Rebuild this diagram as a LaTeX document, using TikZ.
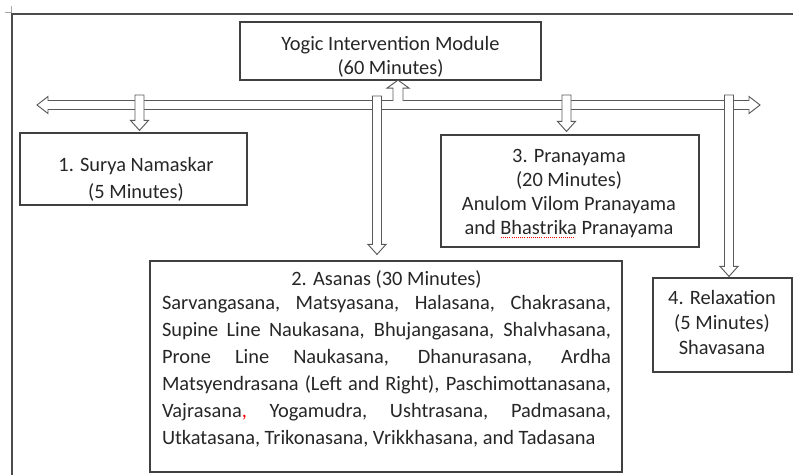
\documentclass[tikz,border=0pt]{standalone}
\usepackage{fontspec}
\setmainfont{Carlito}
\usetikzlibrary{positioning,calc}

\newcommand{\px}{0.75pt}
\newcommand{\asanaw}{336.75pt}
% red spell-check dots under a word
\newcommand{\squig}[1]{\setbox0\hbox{#1}\rlap{\color{red}\raisebox{-2.6pt}{\hbox to\wd0{\leaders\hbox to 1.6pt{\hss\rule{0.7pt}{0.7pt}\hss}\hfill}}}\box0\relax}
% hollow block arrow pointing down, from #1 to tip #2
\newcommand{\downblock}[2]{%
  \draw[blockarrow] ($(#1)+(-4.5,0)$) -- ($(#2)+(-4.5,-10)$) -- ($(#2)+(-9,-10)$) -- (#2)
    -- ($(#2)+(9,-10)$) -- ($(#2)+(4.5,-10)$) -- ($(#1)+(4.5,0)$) -- cycle;}

\begin{document}
\begin{tikzpicture}[
    x=0.75pt, y=-0.75pt,
    box/.style={rectangle, draw=black!75, line width=0.9pt, inner sep=0pt},
    txt/.style={align=center, inner sep=0pt, text=black!85, font=\fontsize{15.3}{18}\selectfont,
      execute at begin node={\spaceskip=0pt\xspaceskip=0pt}},
    blockarrow/.style={draw=black!65, fill=white, line width=0.7pt, line join=miter},
    frame/.style={draw=black!70, line width=1.1pt},
]
\useasboundingbox (0,0) rectangle (793,475);

% page frame and corner mark
\draw[frame] (12,476) |- (794,14);
\draw[black!35, line width=0.5pt] (5,12.5) -- (11,12.5) -- (11,6);

% boxes
\node[box, minimum width=301*\px, minimum height=58*\px] (top) at (390.5,51) {};
\node[box, minimum width=227*\px, minimum height=72*\px] (surya) at (133.5,169) {};
\node[box, minimum width=472*\px, minimum height=211*\px] (asanas) at (386,366.5) {};
\node[box, minimum width=258*\px, minimum height=112*\px] (prana) at (570,191) {};
\node[box, minimum width=139*\px, minimum height=94*\px] (relax) at (722.5,325) {};

% texts
\node[txt] (toptxt) at (390.5,56.5) {Yogic Intervention Module\\(60 Minutes)};
\node[txt, font=\fontsize{15.3}{20.25}\selectfont] (suryatxt) at (136,179.5) {1. Surya Namaskar\\(5 Minutes)};
\node[txt, align=left, text width=\asanaw, font=\fontsize{15.3}{20.25}\selectfont] (asanastxt) at (386.5,358.5) {%
  \makebox[\asanaw]{2. Asanas (30 Minutes)}\\[-2.25pt]
  \makebox[\asanaw][s]{Sarvangasana, Matsyasana, Halasana, Chakrasana,}\\
  \makebox[\asanaw][s]{Supine Line Naukasana, Bhujangasana, Shalvhasana,}\\
  \makebox[\asanaw][s]{Prone Line Naukasana, Dhanurasana, Ardha}\\
  \makebox[\asanaw][s]{Matsyendrasana (Left and Right), Paschimottanasana,}\\
  \makebox[\asanaw][s]{Vajrasana{\color{red},} Yogamudra, Ushtrasana, Padmasana,}\\
  \makebox[\asanaw][l]{Utkatasana, Trikonasana, Vrikkhasana, and Tadasana}};
\node[txt] (pranatxt) at (569,194) {3. Pranayama\\(20 Minutes)\\Anulom Vilom Pranayama\\and \squig{Bhastrika} Pranayama};
\node[txt, font=\fontsize{15.3}{18.4}\selectfont] (relaxtxt) at (722,322.5) {4. Relaxation\\(5 Minutes)\\Shavasana};

% arrow ends
\coordinate (barL) at (37,105);
\coordinate (barR) at (760,105);
\coordinate (up0) at (398,100.5);
\coordinate (up1) at ($(up0 |- top.south)+(0,-0.5)$);
\coordinate (s1) at (139.5,95);
\coordinate (s2) at (377,96);
\coordinate (s3) at (566.5,95);
\coordinate (s4) at (729,95);

% horizontal double block arrow
\draw[blockarrow] (barL) -- ($(barL)+(11,-8.5)$) -- ($(barL)+(11,-4.5)$) -- ($(barR)+(-11,-4.5)$)
  -- ($(barR)+(-11,-8.5)$) -- (barR) -- ($(barR)+(-11,8.5)$) -- ($(barR)+(-11,4.5)$)
  -- ($(barL)+(11,4.5)$) -- ($(barL)+(11,8.5)$) -- cycle;

% up arrow to the module box, joined to the bar
\draw[blockarrow] ($(up0)+(-5,0.6)$) -- ($(up1)+(-5,8)$) -- ($(up1)+(-11,8)$) -- (up1)
  -- ($(up1)+(11,8)$) -- ($(up1)+(5,8)$) -- ($(up0)+(5,0.6)$);

% down arrows to the four parts
\downblock{s1}{$(s1 |- surya.north)+(0,-2)$}
\downblock{s2}{$(s2 |- asanas.north)+(0,-6)$}
\downblock{s3}{$(s3 |- prana.north)+(0,-3)$}
\downblock{s4}{$(s4 |- relax.north)+(0,-1)$}

\end{tikzpicture}
\end{document}
